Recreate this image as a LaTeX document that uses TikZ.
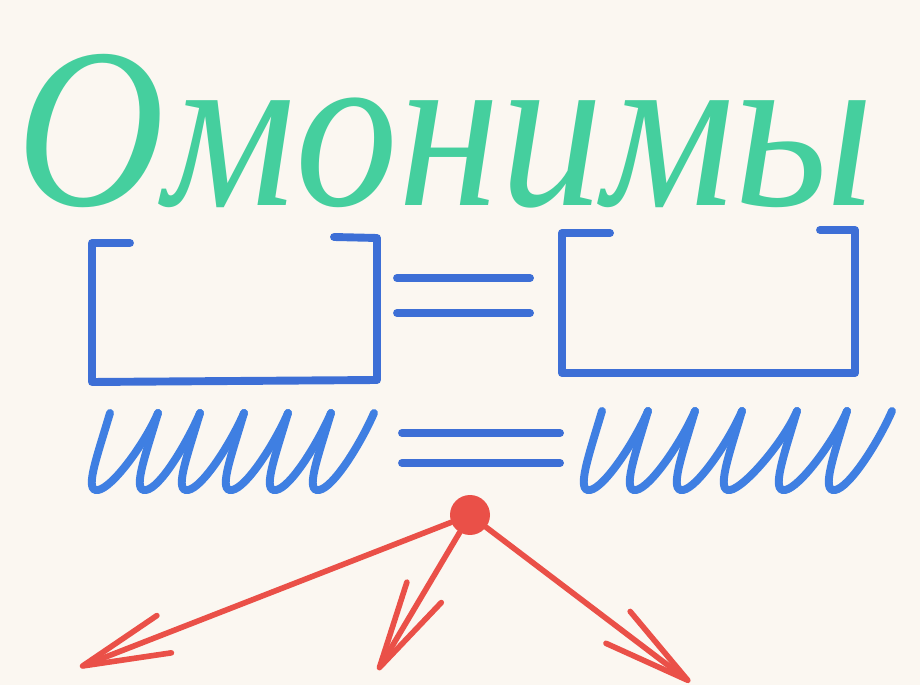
\documentclass[tikz,border=0pt]{standalone}
\usepackage{fontspec}
\setmainfont{Liberation Serif}
\newfontfamily\titlefont[FakeStretch=0.9]{Liberation Serif Italic}
\usetikzlibrary{arrows.meta}

\definecolor{paper}{HTML}{FBF7F1}
\definecolor{marker green}{HTML}{45CF9E}
\definecolor{marker blue}{HTML}{3D6FD6}
\definecolor{wave blue}{HTML}{3F7FE2}
\definecolor{marker red}{HTML}{EA5048}

\tikzset{
  bracket/.style={draw=marker blue, line width=4.5pt, line cap=round, line join=round},
  wave/.style={draw=wave blue, line width=4.5pt, line cap=round},
  redline/.style={draw=marker red, line width=3.2pt, line cap=round,
    -{Straight Barb[length=1.75cm, width=0.8cm, round]}},
}

\begin{document}
\begin{tikzpicture}[x=0.02cm, y=-0.02cm]
    % Paper
    \fill[paper] (0,0) rectangle (920,685);

    % Title
    \node[anchor=base west, inner sep=0pt, text=marker green,
        font=\titlefont\fontsize{130}{130}\selectfont] (title) at (16,206) {Омонимы};

    % Draw the two brackets
    \draw[bracket] (130,243) -- (92,243) -- (92,382) -- (377,380) -- (377,238) -- (334,237);
    \draw[bracket] (610,233) -- (562,233) -- (562,373) -- (855,373) -- (855,230) -- (820,230);

    % Equals signs
    \draw[bracket] (397,278) -- (530,278);
    \draw[bracket] (397,313) -- (530,313);
    \draw[bracket] (402,433) -- (560,433);
    \draw[bracket] (402,463) -- (560,463);

    % Wavy lines
    \foreach \a/\b in {110/158, 158/200, 200/244, 244/288, 288/331, 331/374} {
        \draw[wave] (\a,413) .. controls (\a-14,460) and (\a-26,492) .. (\a-12,490)
            .. controls (\a+2,488) and (\b-14,445) .. (\b,413);
    }
    \foreach \a/\b in {602/648, 648/695, 695/742, 742/797, 797/847, 847/892} {
        \draw[wave] (\a,411) .. controls (\a-14,458) and (\a-26,492) .. (\a-12,490)
            .. controls (\a+2,488) and (\b-14,443) .. (\b,411);
    }

    % Red point and arrows
    \node[circle, fill=marker red, inner sep=0pt, minimum size=0.8cm] (dot) at (470,515) {};
    \coordinate (leftend) at (80,667);
    \coordinate (midend) at (378,670);
    \coordinate (rightend) at (690,682);

    \draw[redline] (dot) -- (leftend);
    \draw[redline] (dot) -- (midend);
    \draw[redline] (dot) -- (rightend);
\end{tikzpicture}
\end{document}
